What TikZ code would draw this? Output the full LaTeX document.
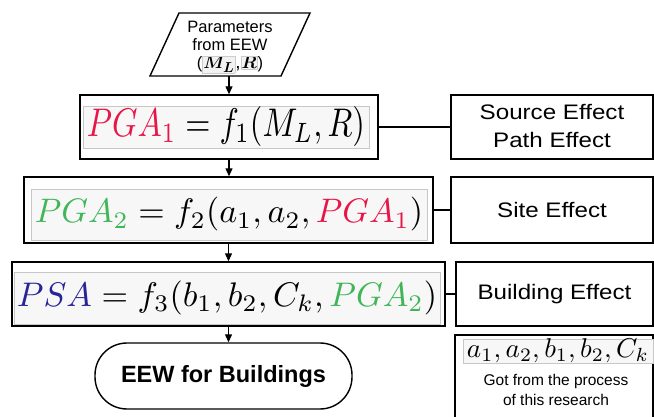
\documentclass[tikz,border=0pt]{standalone}
\usepackage[no-math]{fontspec}
\setmainfont{Liberation Sans}
\newfontfamily\widesf[FakeStretch=1.15]{Liberation Sans}
\usepackage{graphicx}
\usetikzlibrary{arrows.meta}
\definecolor{pgared}{RGB}{232,22,72}
\definecolor{pgagreen}{RGB}{64,182,88}
\definecolor{psablue}{RGB}{38,36,150}
\tikzset{
  box/.style={draw, line width=1.4pt, inner sep=0pt},
  eqbox/.style={draw=black!22, fill=black!3, line width=0.5pt, inner sep=0pt},
  lbl/.style={font=\widesf\fontsize{21}{28}\selectfont, align=center},
  arr/.style={line width=1.2pt, -{Triangle[length=8pt,width=7pt]}},
  link/.style={line width=1.4pt},
}
\begin{document}
\begin{tikzpicture}[x=1pt,y=-1pt]
\useasboundingbox (0,0) rectangle (654,417);
% input parallelogram
\draw[line width=1.4pt] (179,13) -- (310,13) -- (281,76) -- (150,76) -- cycle;
\node[align=center, font=\fontsize{16.5}{18}\selectfont] (param) at (230,47)
  {Parameters\\from EEW\\[0pt]%
   ({\setlength\fboxsep{0.5pt}\fontsize{19}{19}\selectfont\boldmath\fcolorbox{black!20}{black!5}{$M_L$},\fcolorbox{black!20}{black!5}{$R$}})};
\coordinate (pbot) at (229,76);
% step 1
\node[box, minimum width=298, minimum height=64] (box1) at (229,127) {};
\node[eqbox, minimum width=286, minimum height=42] (eq1) at (226,127)
  {\resizebox{278pt}{30pt}{${\color{pgared}PGA_1} = f_1(M_L, R)$}};
\node[box, minimum width=202, minimum height=64] (src) at (552,127) {};
\node[lbl] (srct) at ([yshift=1]src.center) {Source Effect\\Path Effect};
% step 2
\node[box, minimum width=409, minimum height=66] (box2) at (228.5,210) {};
\node[eqbox, minimum width=396, minimum height=51] (eq2) at (229,214.5)
  {\resizebox{388pt}{!}{${\color{pgagreen}PGA_2} = f_2(a_1, a_2, {\color{pgared}PGA_1})$}};
\node[box, minimum width=202, minimum height=66] (site) at (552,210) {};
\node[lbl] (sitet) at (site) {Site Effect};
% step 3
\node[box, minimum width=433, minimum height=64] (box3) at (228.5,294) {};
\node[eqbox, minimum width=426, minimum height=52] (eq3) at (227,298)
  {\resizebox{420pt}{!}{${\color{psablue}PSA} = f_3(b_1, b_2, C_k, {\color{pgagreen}PGA_2})$}};
\node[box, minimum width=197, minimum height=64] (bldg) at (554.5,294) {};
\node[lbl] (bldgt) at (bldg) {Building Effect};
% terminator
\node[box, rounded corners=32pt, minimum width=257, minimum height=66,
      font=\bfseries\fontsize{23.5}{28}\selectfont] (term) at (223.5,376) {EEW for Buildings};
% note
\node[box, minimum width=198, minimum height=85] (note) at (554,377.5) {};
\node[eqbox, minimum width=190, minimum height=22] (eqn) at (558,351)
  {\resizebox{182pt}{!}{$a_1, a_2, b_1, b_2, C_k$}};
\node[font=\fontsize{15.5}{20}\selectfont, align=center] (notet) at (556,390)
  {Got from the process\\of this research};
% connectors
\draw[arr] (pbot) -- (pbot |- box1.north);
\draw[arr] (box1.south) -- (box1.south |- box2.north);
\draw[arr] (box2.south) -- (box2.south |- box3.north);
\draw[arr] (box3.south) -- (box3.south |- term.north);
\draw[link] (box1.east) -- (src.west);
\draw[link] (box2.east) -- (site.west);
\draw[link] (box3.east) -- (bldg.west);
\end{tikzpicture}
\end{document}
